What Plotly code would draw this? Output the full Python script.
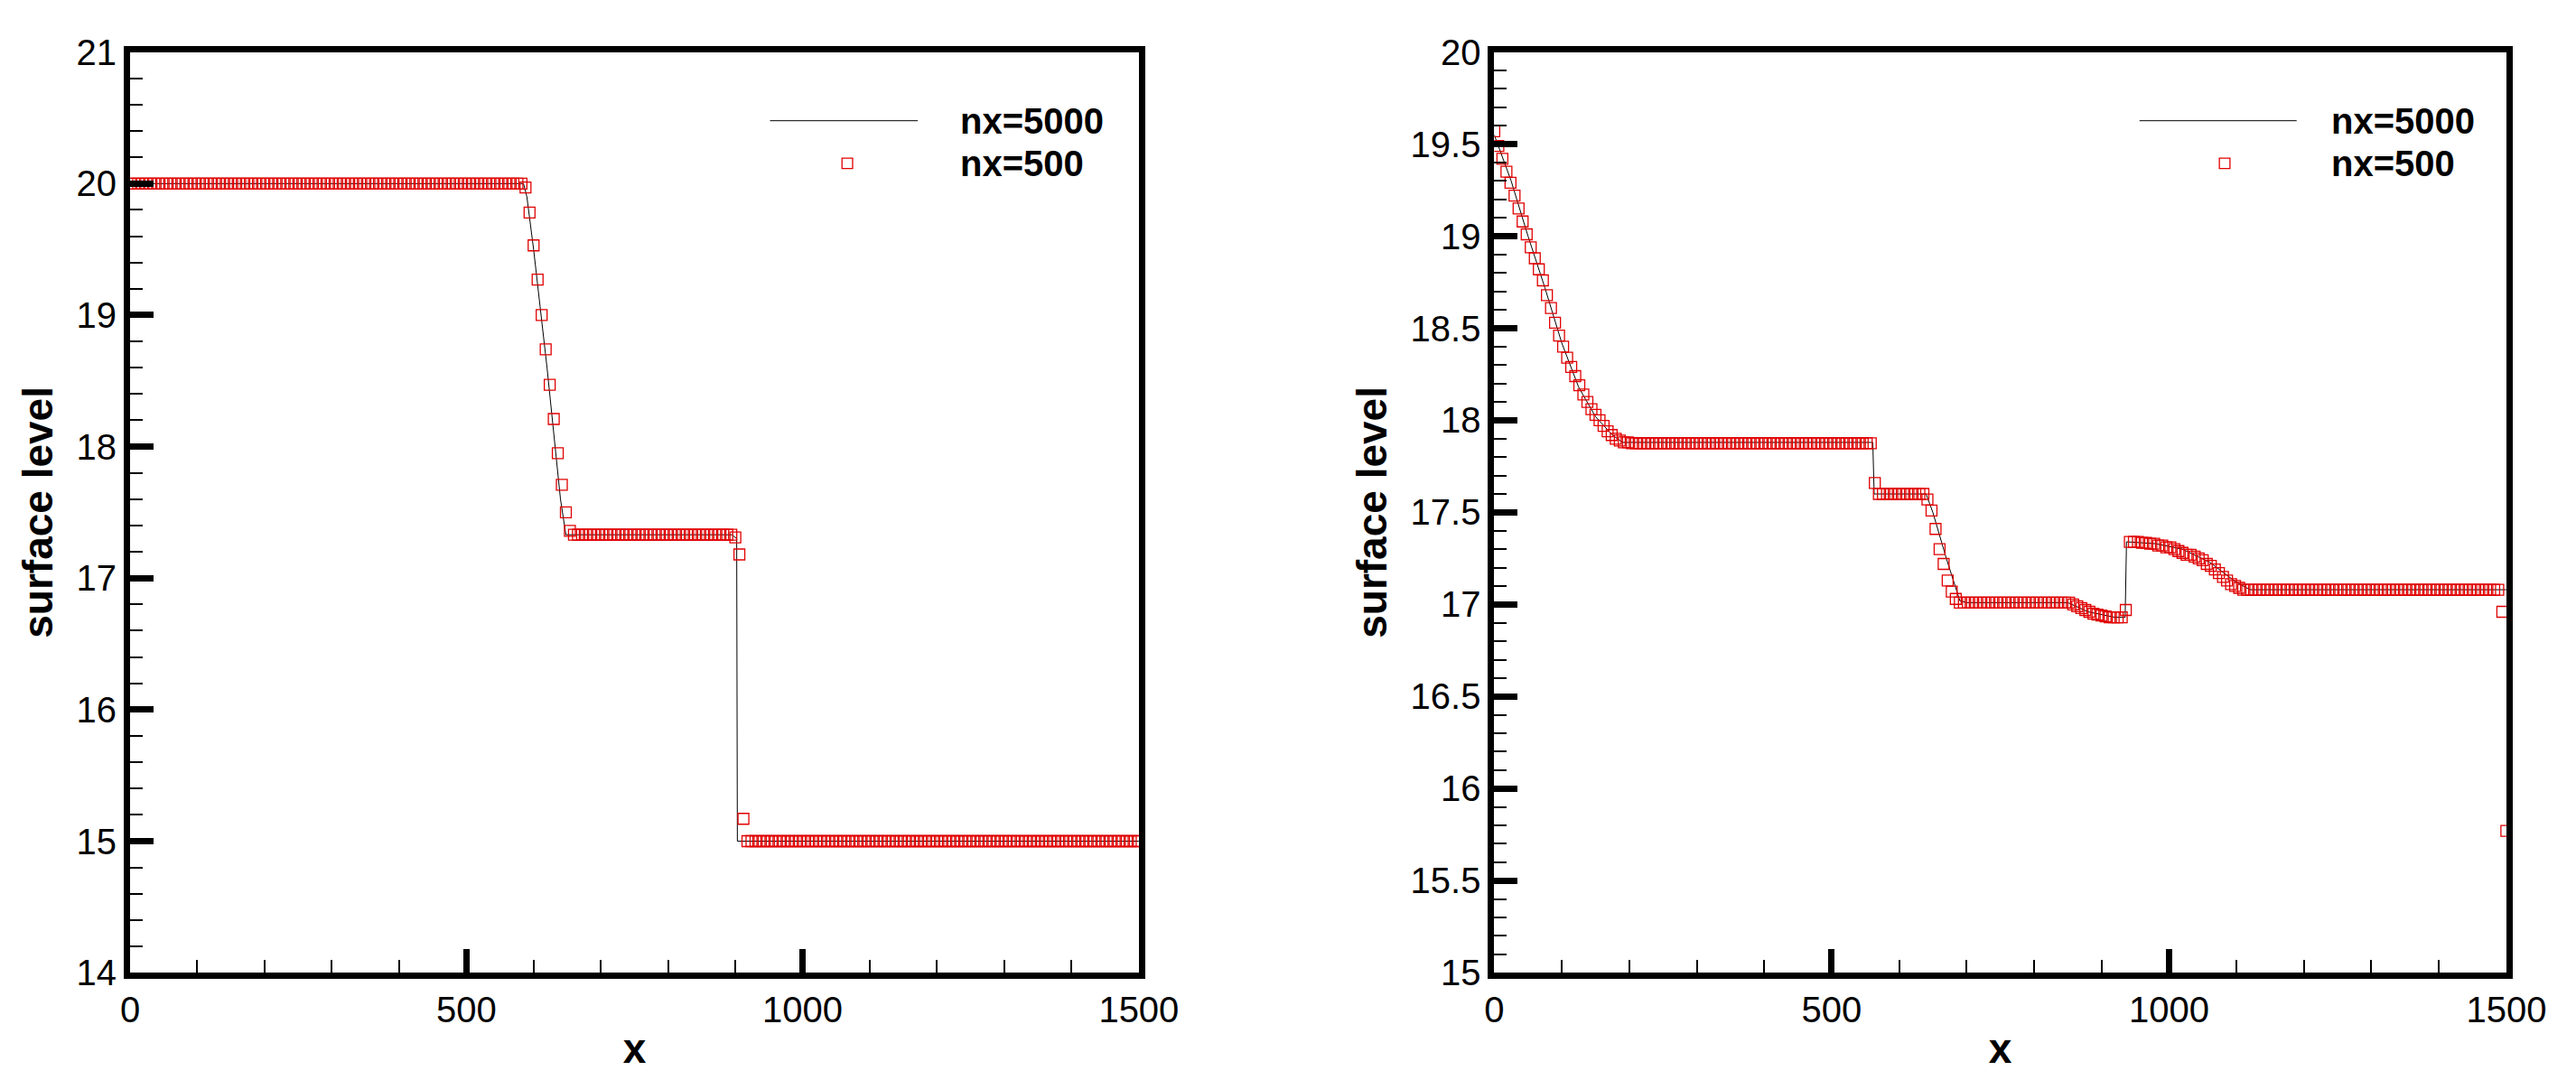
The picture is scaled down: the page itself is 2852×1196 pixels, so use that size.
import numpy as np
import plotly.graph_objects as go

# ---- data ----
# reference solution (nx=5000), breakpoints
left_line_x = [0, 585, 590, 600, 620, 640, 648, 895, 902, 903, 1500]
left_line_y = [20.0, 20.0, 19.9, 19.5, 18.6, 17.6, 17.33, 17.33, 17.3, 15.0, 15.0]

right_line_x = [0, 25, 50, 75, 100, 125, 150, 175, 190, 561, 563, 640, 650, 670, 690, 700,
                850, 880, 920, 935, 937, 980, 1020, 1060, 1100, 1120, 1500]
right_line_y = [19.55, 19.3, 19.0, 18.72, 18.42, 18.18, 18.02, 17.92, 17.88, 17.88, 17.6, 17.6,
                17.5, 17.25, 17.02, 17.01, 17.01, 16.96, 16.93, 16.93, 17.34, 17.33, 17.3,
                17.23, 17.12, 17.08, 17.08]

# coarse solution (nx=500), plotted every 6 m
coarse_x = list(range(0, 1501, 6))

left_coarse_y = ([20.0] * 98
                 + [19.97, 19.78, 19.53, 19.27, 19.0, 18.74, 18.47, 18.21, 17.95, 17.71, 17.50, 17.36, 17.33]
                 + [17.33] * 39
                 + [17.31, 17.18, 15.17]
                 + [15.0] * 98)

right_coarse_y = ([19.57, 19.49, 19.42, 19.35, 19.29, 19.22, 19.15, 19.08, 19.01, 18.94, 18.88, 18.82,
                   18.76, 18.68, 18.61, 18.53, 18.46, 18.40, 18.34, 18.29, 18.24, 18.19, 18.14, 18.10,
                   18.06, 18.03, 18.00, 17.97, 17.94, 17.92, 17.90, 17.89, 17.88, 17.88]
                  + [17.875] * 60
                  + [17.66]
                  + [17.6] * 12
                  + [17.57, 17.51, 17.41, 17.30, 17.22, 17.13, 17.07, 17.03, 17.01]
                  + [17.01] * 27
                  + [17.00, 16.99, 16.98, 16.97, 16.96, 16.95, 16.945, 16.94, 16.935, 16.93, 16.93,
                     16.93, 16.93, 16.97]
                  + [17.34, 17.34, 17.34, 17.335, 17.335, 17.33, 17.33, 17.32, 17.32, 17.31, 17.31,
                     17.30, 17.29, 17.28, 17.27, 17.27, 17.26, 17.25, 17.24, 17.22, 17.21, 17.19,
                     17.17, 17.15, 17.13, 17.11, 17.10, 17.09, 17.08]
                  + [17.08] * 63
                  + [16.96, 15.77])

series_names = ["nx=5000", "nx=500"]

FONT = "Liberation Sans"
fig = go.Figure()

fig.add_trace(go.Scatter(x=left_line_x, y=left_line_y, mode="lines",
                         line=dict(color="black", width=1), xaxis="x", yaxis="y", showlegend=False))
fig.add_trace(go.Scatter(x=coarse_x, y=left_coarse_y, mode="markers",
                         marker=dict(symbol="square-open", size=12, color="#e00000", line=dict(width=1.3)),
                         xaxis="x", yaxis="y", showlegend=False))
fig.add_trace(go.Scatter(x=right_line_x, y=right_line_y, mode="lines",
                         line=dict(color="black", width=1), xaxis="x2", yaxis="y2", showlegend=False))
fig.add_trace(go.Scatter(x=coarse_x, y=right_coarse_y, mode="markers",
                         marker=dict(symbol="square-open", size=12, color="#e00000", line=dict(width=1.3)),
                         xaxis="x2", yaxis="y2", showlegend=False))

def xax(domain, anchor):
    return dict(domain=domain, anchor=anchor, range=[0, 1500], tickvals=[0, 500, 1000, 1500],
                ticks="inside", ticklen=26, tickwidth=7, tickcolor="black",
                minor=dict(ticks="inside", dtick=100, ticklen=14, tickwidth=1.5, tickcolor="black"),
                showline=True, linewidth=7, linecolor="black", mirror=True, showgrid=False, zeroline=False,
                tickfont=dict(family=FONT, size=40, color="black"),
                title=dict(text="<b>x</b>", font=dict(family=FONT, size=46, color="black"), standoff=8))

def yax(domain, anchor, rng, dt, mdt):
    return dict(domain=domain, anchor=anchor, range=rng, dtick=dt,
                ticks="inside", ticklen=26, tickwidth=7, tickcolor="black",
                minor=dict(ticks="inside", dtick=mdt, ticklen=14, tickwidth=1.5, tickcolor="black"),
                showline=True, linewidth=7, linecolor="black", mirror=True, showgrid=False, zeroline=False,
                tickfont=dict(family=FONT, size=40, color="black"),
                title=dict(text="<b>surface level</b>", font=dict(family=FONT, size=46, color="black"), standoff=14))

ydom = [0.091, 0.976]
fig.update_layout(
    width=2852, height=1196, paper_bgcolor="white", plot_bgcolor="white",
    margin=dict(l=0, r=0, t=0, b=0),
    xaxis=xax([0.0447, 0.444], "y"),
    yaxis=yax(ydom, "x", [14, 21], 1, 0.2),
    xaxis2=xax([0.5847, 0.9853], "y2"),
    yaxis2=yax(ydom, "x2", [15, 20], 0.5, 0.1),
)

# legends
shapes, annots = [], []
for (lx0, lx1, mx, tx) in [(0.298, 0.3565, 0.3286, 0.3727), (0.8401, 0.9023, 0.8738, 0.9153)]:
    shapes.append(dict(type="line", xref="paper", yref="paper", x0=lx0, x1=lx1, y0=0.91, y1=0.91,
                       line=dict(color="black", width=1)))
    shapes.append(dict(type="rect", xref="paper", yref="paper", x0=mx - 0.0021, x1=mx + 0.0021,
                       y0=0.869 - 0.005, y1=0.869 + 0.005, line=dict(color="#e00000", width=1.3)))
    for yy, name in zip([0.91, 0.869], series_names):
        annots.append(dict(xref="paper", yref="paper", x=tx, y=yy, xanchor="left", yanchor="middle",
                           text="<b>" + name + "</b>", showarrow=False,
                           font=dict(family=FONT, size=40, color="black")))
fig.update_layout(shapes=shapes, annotations=annots)

fig.write_html("out.html")
